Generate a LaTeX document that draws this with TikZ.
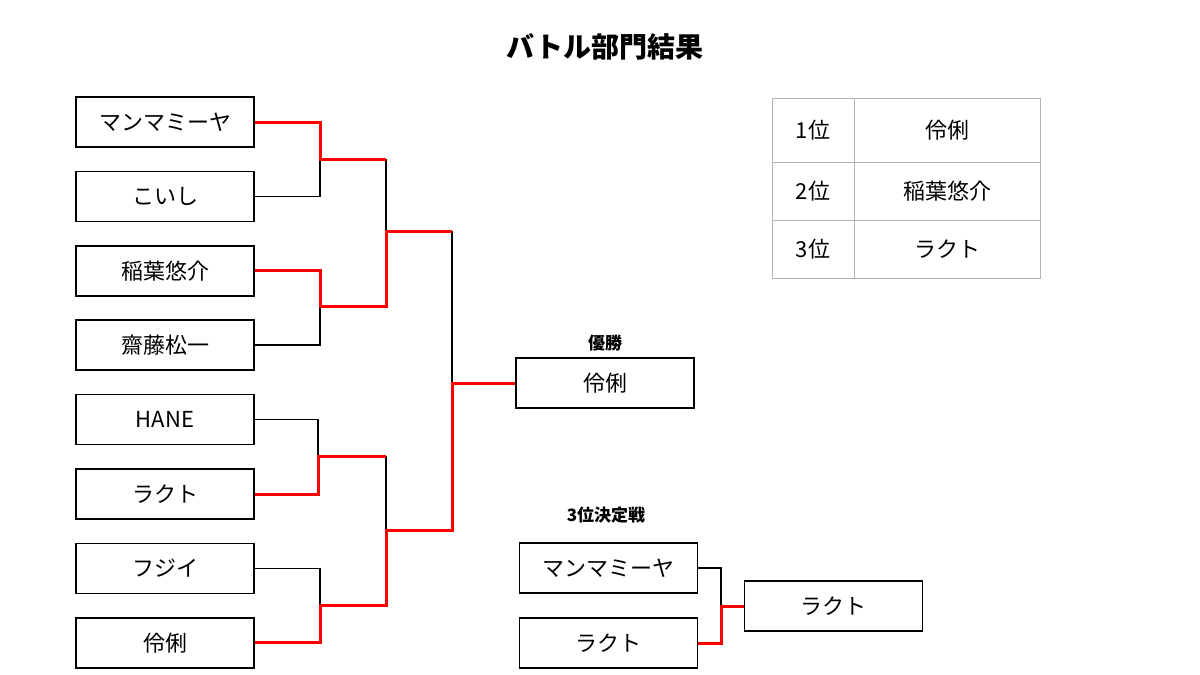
\documentclass[tikz,border=0pt]{standalone}
\usepackage{fontspec}
\setmainfont{Noto Sans CJK JP}
\usetikzlibrary{positioning}
\tikzset{
  entry/.style={draw=black, line width=1.6pt, minimum width=178pt, minimum height=50pt, inner sep=0pt, align=center, font=\fontsize{22}{24}\selectfont},
  heading/.style={inner sep=0pt, font=\bfseries\fontsize{17}{19}\selectfont},
  cell/.style={draw=black!30, line width=0.9pt, inner sep=0pt, outer sep=0pt, font=\fontsize{22}{24}\selectfont},
  lose/.style={line width=1.6pt, draw=black},
  win/.style={line width=3pt, draw=red}
}

\begin{document}
\begin{tikzpicture}[x=1pt, y=-1pt, node distance=22.8pt]
  \useasboundingbox (0,0) rectangle (1200,675);

  \node[inner sep=0pt, font=\bfseries\fontsize{28}{30}\selectfont] (title) at (605,47) {バトル部門結果};

  % first round
  \node[entry] (p1) at (165,122) {マンマミーヤ};
  \node[entry, below=of p1] (p2) {こいし};
  \node[entry, below=of p2] (p3) {稲葉悠介};
  \node[entry, below=of p3] (p4) {齋藤松一};
  \node[entry, below=of p4] (p5) {HANE};
  \node[entry, below=of p5] (p6) {ラクト};
  \node[entry, below=of p6] (p7) {フジイ};
  \node[entry, below=of p7] (p8) {伶俐};

  \coordinate (m1) at (320,159);
  \coordinate (m2) at (320,306);
  \coordinate (m3) at (318,456);
  \coordinate (m4) at (320,605);
  \coordinate (s1) at (386,231);
  \coordinate (s2) at (386,530);
  \coordinate (f) at (452,383);

  \node[heading] (winlabel) at (605,343) {優勝};
  \node[entry] (champ) at (605,383) {伶俐};

  % losers
  \draw[lose] (p2.east) -| (m1);
  \draw[lose] (p4.east) -| (m2);
  \draw[lose] (p5.east) -| (m3);
  \draw[lose] (p7.east) -| (m4);
  \draw[lose] (m1 -| s1) -- (s1);
  \draw[lose] (m3 -| s2) -- (s2);
  \draw[lose] (s1 -| f) -- (f);

  % winners
  \draw[win] (p1.east) -| (m1) -- (m1 -| s1);
  \draw[win] (p3.east) -| (m2) -- (m2 -| s1) -- (s1) -- (s1 -| f);
  \draw[win] (p6.east) -| (m3) -- (m3 -| s2);
  \draw[win] (p8.east) -| (m4) -- (m4 -| s2) -- (s2) -- (s2 -| f) -- (f) -- (champ.west);

  % third place
  \node[heading] (thirdlabel) at (606,515) {3位決定戦};
  \node[entry] (t1) at (608.5,568) {マンマミーヤ};
  \node[entry] (t2) at (608.5,643) {ラクト};
  \node[entry] (t3) at (833.5,606) {ラクト};
  \coordinate (tm) at (721,606);
  \draw[lose] (t1.east) -| (tm);
  \draw[win] (t2.east) -| (tm) -- (t3.west);

  % ranking
  \node[cell, minimum width=82pt, minimum height=64pt] (r1) at (813,130) {1位};
  \node[cell, minimum width=186pt, minimum height=64pt, right=0pt of r1] (n1) {伶俐};
  \node[cell, minimum width=82pt, minimum height=58pt, below=0pt of r1] (r2) {2位};
  \node[cell, minimum width=186pt, minimum height=58pt, right=0pt of r2] (n2) {稲葉悠介};
  \node[cell, minimum width=82pt, minimum height=58pt, below=0pt of r2] (r3) {3位};
  \node[cell, minimum width=186pt, minimum height=58pt, right=0pt of r3] (n3) {ラクト};
\end{tikzpicture}
\end{document}
